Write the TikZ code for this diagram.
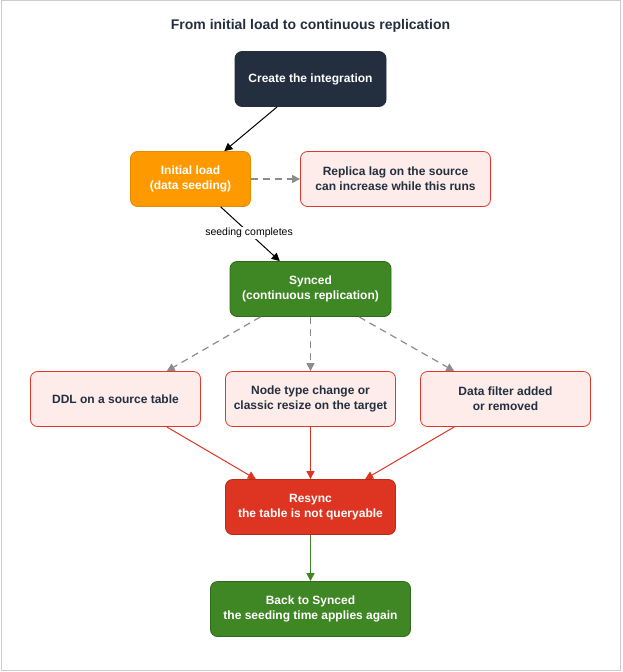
\documentclass[tikz,border=0pt]{standalone}
\usepackage{fontspec}
\setmainfont{Liberation Sans}
\usetikzlibrary{arrows.meta,calc}
\definecolor{navy}{HTML}{232F3E}
\definecolor{amber}{HTML}{FF9900}
\definecolor{amberline}{HTML}{E08A00}
\definecolor{leaf}{HTML}{3F8624}
\definecolor{leafline}{HTML}{2E6B1A}
\definecolor{alarm}{HTML}{DD3522}
\definecolor{alarmline}{HTML}{B92A18}
\definecolor{blush}{HTML}{FDECEA}
\definecolor{blushline}{HTML}{E0392B}
\definecolor{frameline}{HTML}{CCCCCC}
\definecolor{dashgray}{HTML}{8C8C8C}
\tikzset{
  box/.style={draw, rounded corners=7pt, minimum height=55pt, align=center,
    font=\fontsize{12}{14.6}\selectfont\bfseries, line width=0.8pt, inner sep=2pt},
  darkbox/.style={box, fill=navy, draw=navy, text=white},
  loadbox/.style={box, fill=amber, draw=amberline, text=white},
  okbox/.style={box, fill=leaf, draw=leafline, text=white},
  warnbox/.style={box, fill=blush, draw=blushline, text=navy},
  resyncbox/.style={box, fill=alarm, draw=alarmline, text=white},
  tip/.style={-{Triangle[length=8pt,width=8pt]}},
  flow/.style={tip, draw=black, line width=1pt},
  maybe/.style={tip, draw=dashgray, line width=1.2pt, dash pattern=on 7pt off 5pt, dashgray},
  hit/.style={tip, draw=alarm, line width=1pt, alarm},
  back/.style={tip, draw=leaf, line width=1pt, leaf}
}
\begin{document}
\begin{tikzpicture}[x=1pt,y=-1pt]
  \useasboundingbox (0,0) rectangle (622,672);
  \draw [frameline, line width=1pt] (1,0.5) rectangle (620.5,670.5);
  % title
  \node (title) at (310.5,26) [font=\fontsize{14}{16}\selectfont\bfseries, text=navy]
    {From initial load to continuous replication};
  % states
  \node (create) at (310.5,79)  [darkbox, minimum width=151pt] {Create the integration};
  \node (seed)   at (190.5,179) [loadbox, minimum width=120pt] {Initial load\\(data seeding)};
  \node (lag)    at (395.5,179) [warnbox, minimum width=190pt] {Replica lag on the source\\can increase while this runs};
  \node (synced) at (310.5,289) [okbox, minimum width=161pt] {Synced\\(continuous replication)};
  \node (ddl)    at (115.5,399) [warnbox, minimum width=170pt] {DDL on a source table};
  \node (resize) at (310.5,399) [warnbox, minimum width=170pt] {Node type change or\\classic resize on the target};
  \node (filter) at (505.5,399) [warnbox, minimum width=170pt] {Data filter added\\or removed};
  \node (resync) at (310.5,507) [resyncbox, minimum width=170pt] {Resync\\the table is not queryable};
  \node (again)  at (310.5,609) [okbox, minimum width=200pt] {Back to Synced\\the seeding time applies again};
  % connectors
  \draw [flow] ($(create.south west)!0.28!(create.south east)$) -- ($(seed.north west)!0.78!(seed.north east)$);
  \draw [flow] ($(seed.south west)!0.75!(seed.south east)$) -- ($(synced.north west)!0.31!(synced.north east)$)
    node [pos=0.48, fill=white, inner sep=1.5pt, font=\fontsize{10.5}{12}\selectfont] {seeding completes};
  \draw [maybe] (seed) -- (lag);
  \draw [maybe] ($(synced.south west)!0.19!(synced.south east)$) -- ($(ddl.north west)!0.8!(ddl.north east)$);
  \draw [maybe] (synced) -- (resize);
  \draw [maybe] ($(synced.south west)!0.8!(synced.south east)$) -- ($(filter.north west)!0.2!(filter.north east)$);
  \draw [hit] ($(ddl.south west)!0.8!(ddl.south east)$) -- ($(resync.north west)!0.18!(resync.north east)$);
  \draw [hit] (resize) -- (resync);
  \draw [hit] ($(filter.south west)!0.2!(filter.south east)$) -- ($(resync.north west)!0.82!(resync.north east)$);
  \draw [back] (resync) -- (again);
\end{tikzpicture}
\end{document}
